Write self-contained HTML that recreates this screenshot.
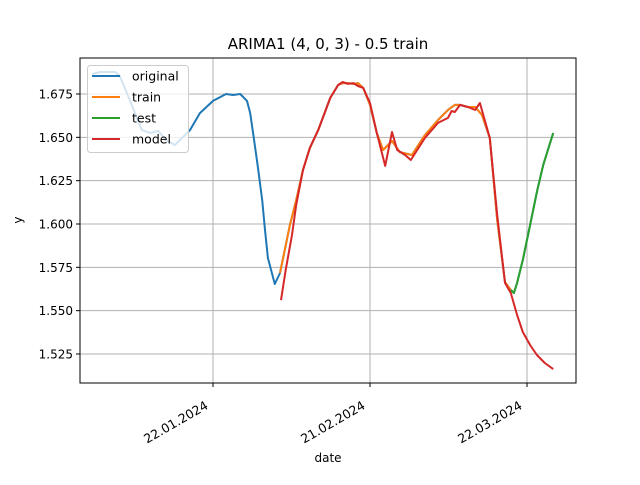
<!DOCTYPE html>
<html><head><meta charset="utf-8"><style>
body{margin:0;background:#fff}
svg{font-family:"DejaVu Sans","Liberation Sans",sans-serif}
</style></head><body>
<svg id="chart" width="640" height="480" viewBox="0 0 640 480">
<rect width="640" height="480" fill="#fff"/>
<text x="328" y="49" text-anchor="middle" font-size="15">ARIMA1 (4, 0, 3) - 0.5 train</text>
<g id="grid"></g>
<g id="series"></g>
<rect x="80" y="58" width="496" height="325" fill="none" stroke="#000" stroke-width="1"/>
<g id="ticks"></g>
<text x="328" y="462" text-anchor="middle" font-size="12">date</text>
<text x="22" y="220" text-anchor="middle" font-size="12" transform="rotate(-90 22 220)">y</text>
<g id="legend"></g>
</svg>
<script>
// day offsets from 22.01.2024, values
const origDays=[-23.1,-21.6,-18.7,-17.8,-15.9,-13.6,-12.0,-10.5,-9.0,-7.3,-4.4,-2.5,0,2.5,3.8,5.2,6.5,7.1,7.8,8.6,9.4,9.9,10.5,11.8,12.8];
const origVals=[1.6865,1.6877,1.6877,1.6854,1.6715,1.6542,1.6525,1.6537,1.6485,1.6456,1.6542,1.6640,1.6710,1.675,1.6744,1.675,1.671,1.664,1.6496,1.6323,1.6138,1.5977,1.5804,1.5654,1.5717];
const trainDays=[12.8,13.4,14.7,15.9,17.2,18.5,20.1,21.4,22.4,23.9,24.8,25.8,26.8,27.7,28.7,30.0,31.3,32.5,34.2,35.7,38.0,40.5,43.0,44.9,46.2,47.2,48.7,50.1,51.4,52.9,54.3,55.8,56.9];
const trainVals=[1.5717,1.5804,1.5994,1.6138,1.6312,1.6438,1.6542,1.6646,1.6727,1.6802,1.6813,1.6813,1.6808,1.6813,1.6785,1.6687,1.6525,1.6427,1.6479,1.6415,1.6398,1.6513,1.6600,1.6658,1.6687,1.6687,1.6675,1.6675,1.6629,1.6496,1.6023,1.5665,1.5619];
const testDays=[56.9,57.5,58.1,59.2,60.6,61.9,63.1,65.0];
const testVals=[1.5619,1.5602,1.5660,1.5792,1.5994,1.6185,1.6340,1.6525];
const modelDays=[13.0,13.9,15.1,15.9,17.2,18.5,20.1,21.4,22.4,23.9,24.8,25.8,26.8,27.7,28.7,30.0,31.3,32.9,34.2,35.2,36.7,37.8,40.5,43.0,44.9,45.6,46.2,47.2,48.7,50.1,51.0,52.9,54.3,55.8,56.9,58.1,59.2,60.6,61.9,63.4,65.0];
const modelVals=[1.5561,1.5735,1.5937,1.6110,1.6312,1.6438,1.6542,1.6646,1.6727,1.6802,1.6819,1.6808,1.6813,1.6796,1.6785,1.6698,1.6525,1.6335,1.6531,1.6427,1.6398,1.6369,1.6496,1.6583,1.6612,1.6652,1.6646,1.6687,1.6675,1.6658,1.6698,1.6496,1.6052,1.5660,1.5602,1.5475,1.5377,1.5302,1.5244,1.5198,1.5163];
const yTicks=[1.525,1.550,1.575,1.600,1.625,1.650,1.675];
const xTickDays=[0,30,60];
const xTickLabels=["22.01.2024","21.02.2024","22.03.2024"];

const NS="http://www.w3.org/2000/svg";
const X=d=>213+d*(157/30);
const Y=v=>94-(v-1.675)/0.025*43.33;
function mk(tag,attrs,parent){const e=document.createElementNS(NS,tag);for(const k in attrs)e.setAttribute(k,attrs[k]);parent.appendChild(e);return e;}
const grid=document.getElementById('grid'),ticks=document.getElementById('ticks'),series=document.getElementById('series'),legend=document.getElementById('legend');
yTicks.forEach(v=>{
  const y=Y(v);
  const g=mk('line',{x1:80,x2:576,y1:y,y2:y,stroke:'#b0b0b0','stroke-width':1},grid);
  
  
  mk('line',{x1:76,x2:80,y1:y,y2:y,stroke:'#000'},ticks);
  const t=mk('text',{x:73,y:y+4.5,'text-anchor':'end','font-size':12},ticks);
  t.textContent=v.toFixed(3);
  
  
});
xTickDays.forEach((d,i)=>{
  const x=X(d);
  const g=mk('line',{x1:x,x2:x,y1:58,y2:383,stroke:'#b0b0b0','stroke-width':1},grid);
  
  
  mk('line',{x1:x,x2:x,y1:383,y2:387,stroke:'#000'},ticks);
  const t=mk('text',{x:x-4,y:408,'text-anchor':'end','font-size':12.5,transform:`rotate(-30 ${x-4} 408)`},ticks);
  t.textContent=xTickLabels[i];
  
  
});
function line(days,vals,color,name){
  const pts=days.map((d,i)=>X(d).toFixed(1)+','+Y(vals[i]).toFixed(1)).join(' ');
  const p=mk('polyline',{points:pts,fill:'none',stroke:color,'stroke-width':2,'stroke-linejoin':'round'},series);
  
  
}
line(origDays.concat(trainDays,testDays.slice(1)),origVals.concat(trainVals,testVals.slice(1)),'#1f77b4','original-line');
line(trainDays,trainVals,'#ff7f0e','train-line');
line(testDays,testVals,'#2ca02c','test-line');
line(modelDays,modelVals,'#d62728','model-line');
const lb=mk('rect',{x:87.5,y:65.5,width:101,height:87,rx:3,fill:'#fff','fill-opacity':0.8,stroke:'#ccc'},legend);


[['original','#1f77b4'],['train','#ff7f0e'],['test','#2ca02c'],['model','#d62728']].forEach(([n,c],i)=>{
  const y=76+i*21;
  mk('line',{x1:92,x2:120,y1:y,y2:y,stroke:c,'stroke-width':2},legend);
  const t=mk('text',{x:132,y:y+4.5,'font-size':12.5},legend);
  t.textContent=n;
  
  
});
</script>
</body></html>
